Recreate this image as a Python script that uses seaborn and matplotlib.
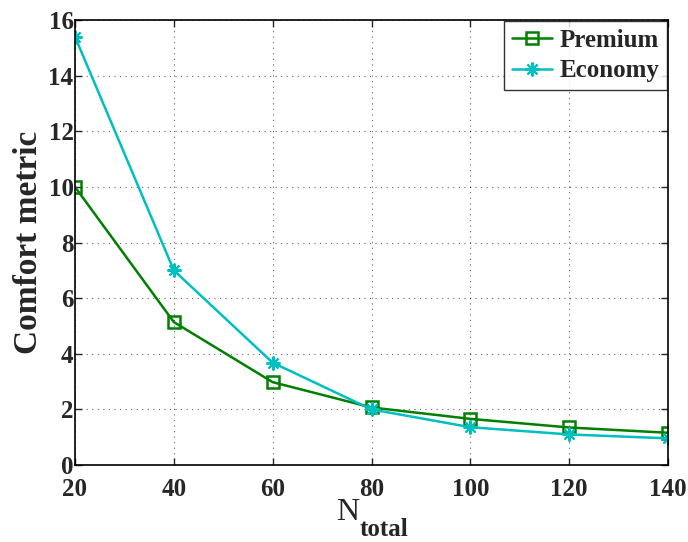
import numpy as np
import pandas as pd
import matplotlib
matplotlib.use("Agg")
import matplotlib.pyplot as plt
import seaborn as sns

# values
n_total = [20, 40, 60, 80, 100, 120, 140]
premium = [10.0, 5.14, 2.98, 2.07, 1.66, 1.35, 1.16]
economy = [15.4, 7.0, 3.68, 2.0, 1.36, 1.10, 0.96]

sns.set_style("ticks")
plt.rcParams['font.family'] = ['Liberation Serif', 'DejaVu Serif']
plt.rcParams['font.weight'] = 'bold'

W, H = 688, 542
fig = plt.figure(figsize=(W / 100, H / 100), dpi=100)
ax = fig.add_axes([0.109, 0.142, 0.862, 0.821])

df = pd.DataFrame({"N": n_total, "Premium": premium, "Economy": economy})

sns.lineplot(data=df, x="N", y="Premium", ax=ax, color="#007F00", lw=1.8,
             marker="s", markersize=9, markerfacecolor="none",
             markeredgecolor="#007F00", markeredgewidth=1.8, label="Premium")
sns.lineplot(data=df, x="N", y="Economy", ax=ax, color="#00BFBF", lw=1.8,
             marker=(8, 2, 0), markersize=10, markeredgecolor="#00BFBF",
             markeredgewidth=1.5, label="Economy")

ax.set_xlim(20, 140)
ax.set_ylim(0, 16)
ax.set_xticks(np.arange(20, 141, 20))
ax.set_yticks(np.arange(0, 17, 2))
ax.tick_params(direction="in", top=True, right=True, labelsize=18, length=5,
               width=1)
ax.tick_params(axis="x", pad=9)
ax.tick_params(axis="y", pad=1)
for lab in ax.get_xticklabels() + ax.get_yticklabels():
    lab.set_fontweight("bold")
for s in ax.spines.values():
    s.set_linewidth(1.2)
    s.set_color("black")
ax.grid(True, linestyle=(0, (1, 4)), color="black", lw=0.8, alpha=0.6)

# x label: "N" with a low subscript "total", as in the reference
ax.set_xlabel("")
fig.text(359 / W, (H - 520) / H, "N", fontsize=23, fontweight="normal",
         ha="right", va="baseline")
fig.text(360 / W, (H - 536) / H, "total", fontsize=18, fontweight="bold",
         ha="left", va="baseline")
ax.set_ylabel("Comfort metric", fontsize=24, fontweight="bold", labelpad=3)

leg = ax.legend(loc="upper right", fontsize=18, frameon=True, fancybox=False,
                borderaxespad=0.05, handlelength=1.6, borderpad=0.3,
                labelspacing=0.3, handletextpad=0.3)
leg.get_frame().set_edgecolor("black")
leg.get_frame().set_linewidth(1.0)
for t in leg.get_texts():
    t.set_fontweight("bold")

fig.savefig("out.png", dpi=100)
